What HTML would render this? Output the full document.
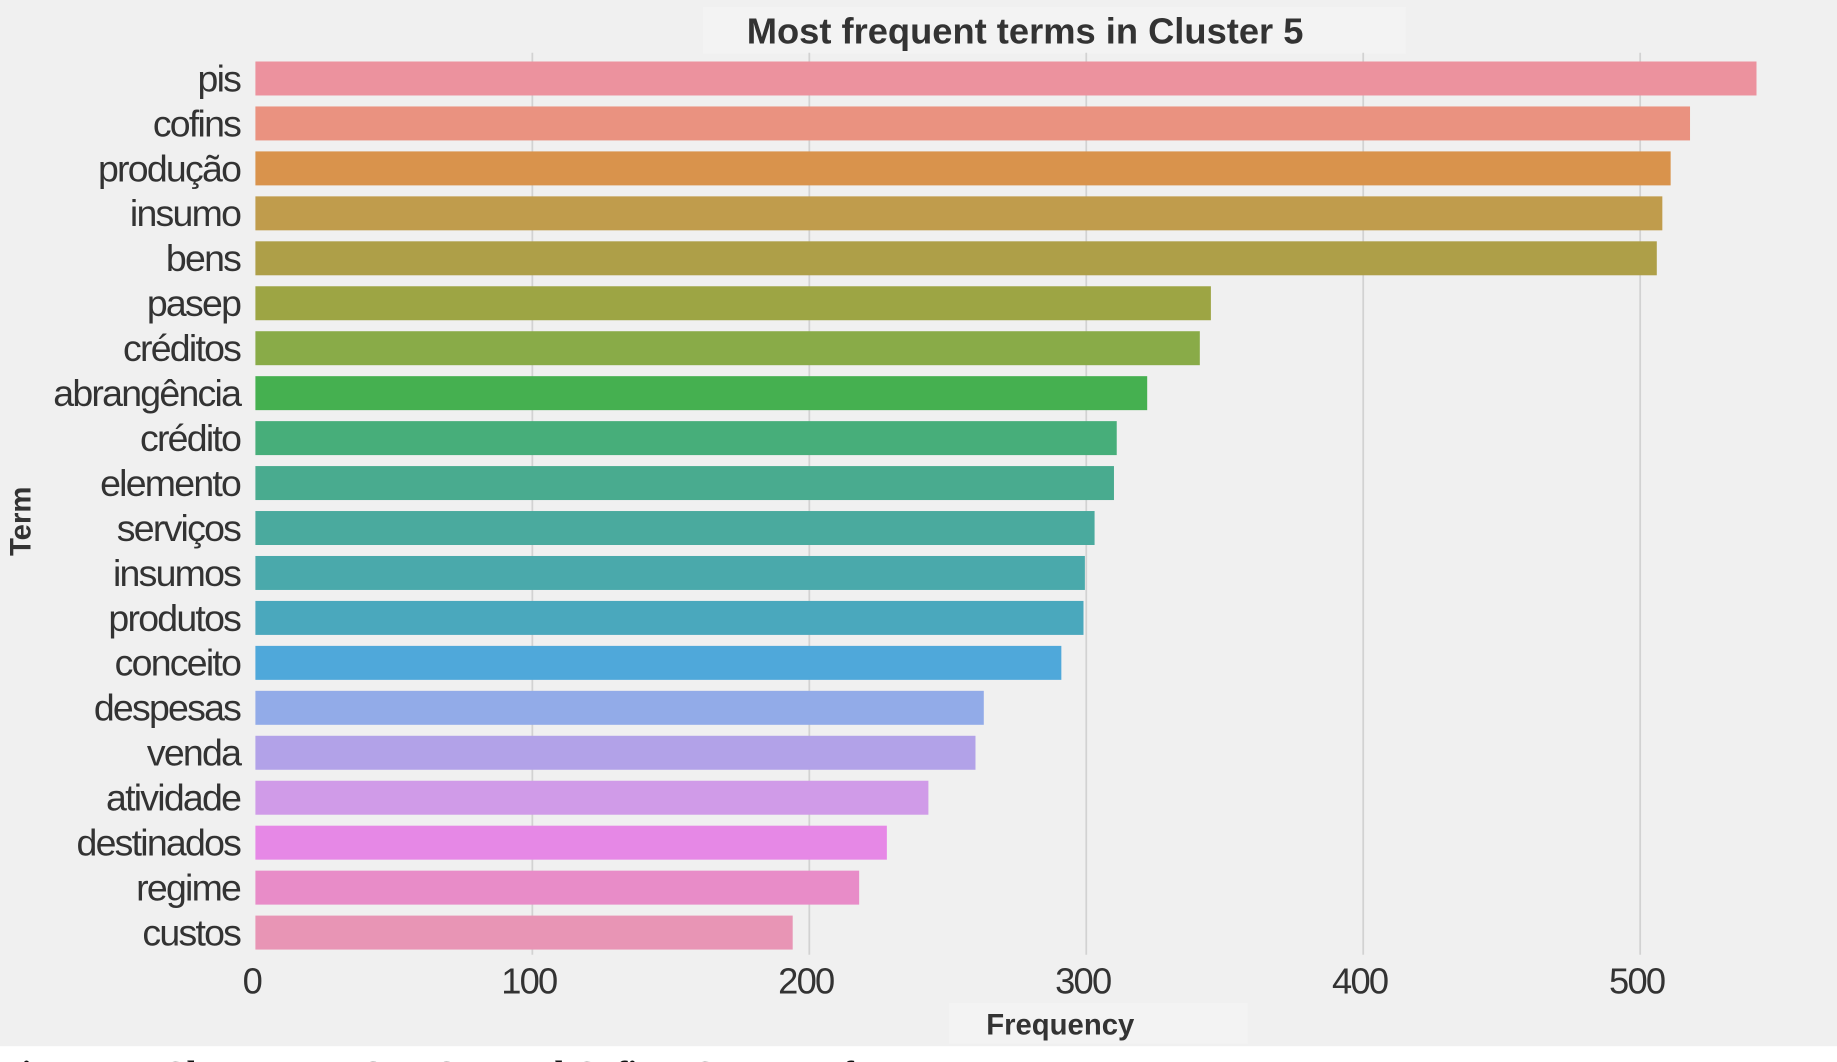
<!DOCTYPE html>
<html><head><meta charset="utf-8"><style>
html,body{margin:0;padding:0;background:#fff;}
svg{display:block;}
</style></head><body>
<svg id="chart" width="1837" height="1062" viewBox="0 0 1568 906.5" preserveAspectRatio="none" xmlns="http://www.w3.org/2000/svg">
<rect x="0" y="0" width="1568" height="893" fill="#f0f0f0"/>
<rect x="600" y="6" width="600" height="40" fill="#f3f3f3"/>
<text x="875" y="37" text-anchor="middle" font-family="Liberation Sans, sans-serif" font-weight="bold" font-size="31" fill="#333" letter-spacing="0">Most frequent terms in Cluster 5</text>
<g id="grid"></g>
<g id="bars"></g>
<g id="ylabels"></g>
<g id="xticks"></g>
<rect x="810" y="856" width="255" height="35" fill="#f3f3f3"/>
<text x="905" y="883" text-anchor="middle" font-family="Liberation Sans, sans-serif" font-weight="bold" font-size="25" fill="#333">Frequency</text>
<text transform="translate(26,445) rotate(-90)" text-anchor="middle" font-family="Liberation Sans, sans-serif" font-weight="bold" font-size="25" fill="#333">Term</text>
<text x="0" y="926" font-family="Liberation Serif, serif" font-weight="bold" font-size="30" fill="#111">Figure 11: Cluster 5 - PIS/PASEP and Cofins: Concept of Inputs</text>
</svg>
<script>
const categories = ["pis","cofins","produção","insumo","bens","pasep","créditos","abrangência","crédito","elemento","serviços","insumos","produtos","conceito","despesas","venda","atividade","destinados","regime","custos"];
const values = [542,518,511,508,506,345,341,322,311,310,303,299.5,299,291,263,260,243,228,218,194];
const colors = ["#ec929e","#ea9280","#d9934c","#c09c4c","#ae9f48","#9da544","#89ab48","#45b050","#47ae7a","#49ab8f","#4aaa9e","#4aa9ab","#4aa8bd","#4fa8da","#92abe8","#b2a2e8","#d09be8","#e688e6","#e88cc8","#e895b5"];
const xTicks = [0,100,200,300,400,500];
const NS="http://www.w3.org/2000/svg";
const x = v => 218 + v*2.364;
const yCenter = i => 67 + i*38.37;
const barH = 29;
const grid=document.getElementById('grid'), bars=document.getElementById('bars'), yl=document.getElementById('ylabels'), xt=document.getElementById('xticks');
xTicks.forEach(t=>{
  if(t>0){
    const l=document.createElementNS(NS,'line');
    
    
    l.setAttribute('x1',x(t));l.setAttribute('x2',x(t));l.setAttribute('y1',45);l.setAttribute('y2',815);
    l.setAttribute('stroke','#d2d2d2');l.setAttribute('stroke-width','1.5');
    grid.appendChild(l);
  }
  const tx=document.createElementNS(NS,'text');
  
  
  tx.setAttribute('x',x(t)-3);tx.setAttribute('y',848);
  tx.setAttribute('text-anchor','middle');tx.setAttribute('font-family','Liberation Sans, sans-serif');
  tx.setAttribute('font-size','31');tx.setAttribute('fill','#333');tx.setAttribute('letter-spacing','-1.5');
  tx.textContent=t;xt.appendChild(tx);
});
categories.forEach((c,i)=>{
  const r=document.createElementNS(NS,'rect');
  
  
  r.setAttribute('x',x(0));r.setAttribute('y',yCenter(i)-barH/2);
  r.setAttribute('width',x(values[i])-x(0));r.setAttribute('height',barH);
  r.setAttribute('fill',colors[i]);
  bars.appendChild(r);
  const t=document.createElementNS(NS,'text');
  
  
  t.setAttribute('x',205);t.setAttribute('y',yCenter(i)+11);
  t.setAttribute('text-anchor','end');t.setAttribute('font-family','Liberation Sans, sans-serif');
  t.setAttribute('font-size','32');t.setAttribute('fill','#333');t.setAttribute('letter-spacing','-1.5');
  t.textContent=c;yl.appendChild(t);
});
</script>
</body></html>
